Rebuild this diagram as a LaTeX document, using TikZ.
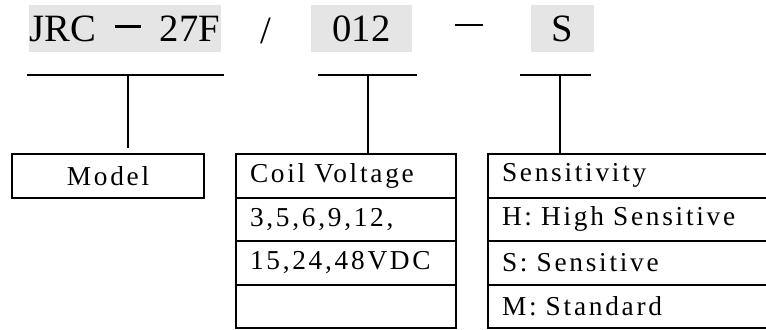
\documentclass[tikz,border=0pt]{standalone}
\usepackage{fontspec}
\setmainfont{Liberation Serif}
\newfontfamily\spacedfont[LetterSpace=10]{Liberation Serif}
\usetikzlibrary{positioning}

\begin{document}
\begin{tikzpicture}[
    x=0.75pt, y=-0.75pt,
    token/.style={fill=black!10, minimum height=35.25pt, inner sep=0pt,
        font=\fontsize{29}{29}\selectfont},
    sep/.style={inner sep=0pt, font=\fontsize{29}{29}\selectfont},
    row/.style={draw, line width=1.5pt, minimum height=32.625pt, outer sep=0pt,
        inner xsep=10.5pt, inner ysep=0pt, align=left,
        font=\spacedfont\fontsize{20.5}{22}\selectfont},
    bar/.style={line width=1.5pt},
    link/.style={line width=1pt},
]
    \useasboundingbox (0,0) rectangle (766,329);

    % Part number
    \node[token, minimum width=144pt] (jrc) at (125,28.5)
        {JRC\hspace{14pt}\rule[10pt]{19.5pt}{2.2pt}\hspace{14pt}27F};
    \node[sep, anchor=base] (slash) at (266,43) {/};
    \node[token, minimum width=75.75pt] (volt) at (361.5,28.5) {012};
    \node[sep] (dash) at (469,25) {\rule{21pt}{2.2pt}};
    \node[token, minimum width=47.25pt] (sens) at (562.5,28.5) {S};

    % Underlines
    \coordinate (bar1l) at (27,75);  \coordinate (bar1r) at (224,75);
    \coordinate (bar2l) at (318,75); \coordinate (bar2r) at (417,75);
    \coordinate (bar3l) at (520,75); \coordinate (bar3r) at (591,75);
    \draw[bar] (bar1l) -- (bar1r);
    \draw[bar] (bar2l) -- (bar2r);
    \draw[bar] (bar3l) -- (bar3r);

    % Model
    \node[row, align=center, text width=123pt] (model) at (108,175.75) {Model};

    % Coil voltage
    \node[row, text width=144pt] (coil1) at (346,175.75) {Coil Voltage};
    \node[row, text width=144pt, below=0pt of coil1] (coil2) {3,5,6,9,12,};
    \node[row, text width=144pt, below=0pt of coil2] (coil3) {15,24,48VDC};
    \node[row, text width=144pt, below=0pt of coil3] (coil4) {};

    % Sensitivity
    \node[row, text width=189pt] (sens1) at (628,175.75) {Sensitivity};
    \node[row, text width=189pt, below=0pt of sens1] (sens2) {H: High Sensitive};
    \node[row, text width=189pt, below=0pt of sens2] (sens3) {S: Sensitive};
    \node[row, text width=189pt, below=0pt of sens3] (sens4) {M: Standard};

    % Stems
    \coordinate (stem1) at (128,75);
    \coordinate (stem2) at (368,75);
    \coordinate (stem3) at (560,75);
    \draw[link, shorten >=4.5pt] (stem1) -- (stem1 |- model.north);
    \draw[link] (stem2) -- (stem2 |- coil1.north);
    \draw[link] (stem3) -- (stem3 |- sens1.north);
\end{tikzpicture}
\end{document}
